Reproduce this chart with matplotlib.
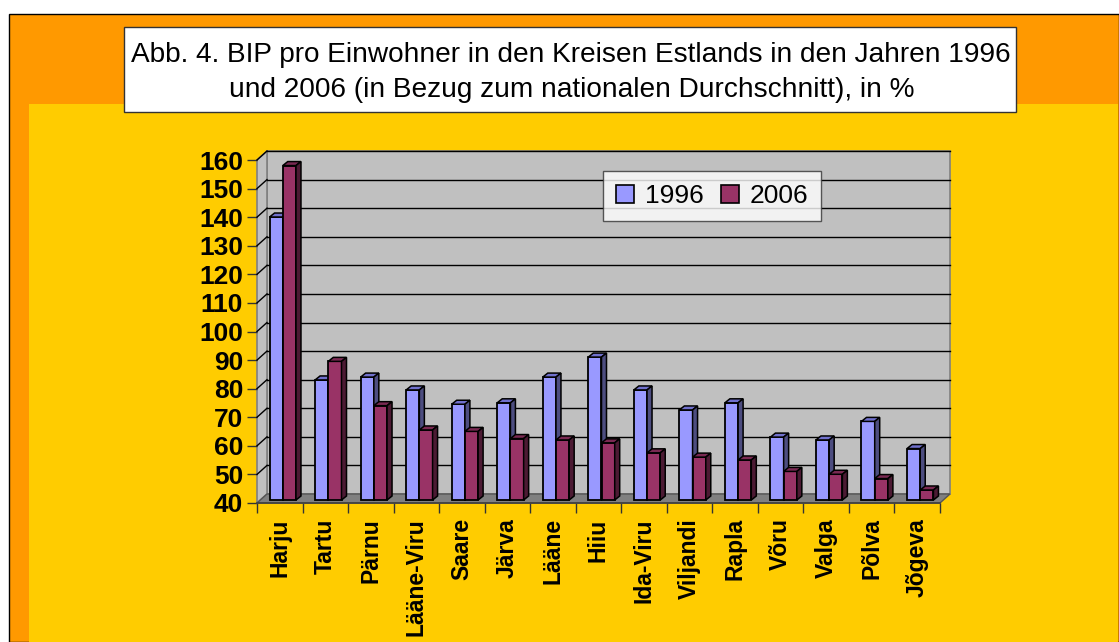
import matplotlib
matplotlib.use("Agg")
import matplotlib.pyplot as plt
from matplotlib.patches import Rectangle, Polygon, Patch
import numpy as np

# ---- data ----
regions = ["Harju", "Tartu", "Pärnu", "Lääne-Viru", "Saare", "Järva", "Lääne",
           "Hiiu", "Ida-Viru", "Viljandi", "Rapla", "Võru", "Valga", "Põlva", "Jõgeva"]
values_1996 = [139, 82, 83, 78.5, 73.5, 74, 83, 90, 78.5, 71.5, 74, 62, 61, 67.5, 58]
values_2006 = [157, 88.5, 73, 64.5, 64, 61.5, 61, 60, 56.5, 55, 54, 50, 49, 47.5, 43.5]
series_labels = ["1996", "2006"]
y_ticks = list(range(40, 161, 10))
title_lines = ["Abb. 4. BIP pro Einwohner in den Kreisen Estlands in den Jahren 1996",
               "und 2006 (in Bezug zum nationalen Durchschnitt), in %"]

W, H = 1119, 642
fig = plt.figure(figsize=(W / 100, H / 100), dpi=100)
fig.patch.set_facecolor("white")

def fx(x):
    return x / W

def fy(y):
    return 1 - y / H

def frect(x0, y0, x1, y1, **kw):
    r = Rectangle((fx(x0), fy(y1)), (x1 - x0) / W, (y1 - y0) / H,
                  transform=fig.transFigure, **kw)
    fig.add_artist(r)
    return r

# background frames
frect(9, 14, 1119, 642, facecolor="#FF9900", edgecolor="black", linewidth=1.0, zorder=-20)
frect(29, 104, 1118, 642, facecolor="#FFCC00", edgecolor="none", zorder=-19)
frect(124, 27, 1016, 112, facecolor="white", edgecolor="#333333", linewidth=1.0, zorder=-18)

tfont = dict(family=["Liberation Sans", "DejaVu Sans"], fontsize=20.2)
fig.text(fx(571), fy(62), title_lines[0], ha="center", va="baseline", **tfont)
fig.text(fx(572), fy(97), title_lines[1], ha="center", va="baseline", **tfont)

# ---- main axes (front plane of the 3D box) ----
x_left, x_right = 257, 940
y_top, y_bot = 160, 503
ax = fig.add_axes([fx(x_left), fy(y_bot), (x_right - x_left) / W, (y_bot - y_top) / H])
ax.set_xlim(0, len(regions))
ax.set_ylim(y_ticks[0], y_ticks[-1])
ax.patch.set_visible(False)
for s in ax.spines.values():
    s.set_visible(False)

ux = len(regions) / (x_right - x_left)             # data units per pixel (x)
uy = (y_ticks[-1] - y_ticks[0]) / (y_bot - y_top)  # data units per pixel (y)
DX, DY = 10 * ux, 9 * uy       # depth of box
BX, BY = 3 * ux, 3 * uy        # bar front offset
TX, TY = 5 * ux, 4 * uy        # bar depth
ymin, ymax = y_ticks[0], y_ticks[-1]
n = len(regions)

# back wall
ax.add_patch(Polygon([(DX, ymin + DY), (n + DX, ymin + DY), (n + DX, ymax + DY), (DX, ymax + DY)],
                     closed=True, facecolor="#C0C0C0", edgecolor="#808080", linewidth=1.2,
                     zorder=1, clip_on=False))
# side wall
ax.add_patch(Polygon([(0, ymin), (DX, ymin + DY), (DX, ymax + DY), (0, ymax)],
                     closed=True, facecolor="#C0C0C0", edgecolor="#808080", linewidth=1.2,
                     zorder=1, clip_on=False))
# gridlines
for v in y_ticks[1:]:
    ax.plot([DX, n + DX], [v + DY, v + DY], color="black", linewidth=1.0, zorder=2, clip_on=False)
    ax.plot([0, DX], [v, v + DY], color="black", linewidth=1.0, zorder=2, clip_on=False)
# floor
ax.add_patch(Polygon([(0, ymin), (n, ymin), (n + DX, ymin + DY), (DX, ymin + DY)],
                     closed=True, facecolor="#808080", edgecolor="#555555", linewidth=1.0,
                     zorder=3, clip_on=False))
ax.plot([0, n], [ymin, ymin], color="#404040", linewidth=1.2, zorder=3, clip_on=False)

# bars
bw = 0.29
colors = {"1996": ("#9999FF", "#7070CC", "#4D4D80"),
          "2006": ("#993366", "#7A2952", "#4C1A33")}
z = 5
for i in range(n):
    for j, (lab, vals) in enumerate(zip(series_labels, [values_1996, values_2006])):
        front, top, side = colors[lab]
        x0 = i + 0.5 - bw + j * bw + BX
        x1 = x0 + bw
        y0 = ymin + BY
        v = vals[i] + BY
        ax.bar(x0, vals[i] - ymin, bottom=y0, width=bw, align="edge",
               color=front, edgecolor="black", linewidth=1.3, zorder=z, clip_on=False)
        ax.add_patch(Polygon([(x0, v), (x1, v), (x1 + TX, v + TY), (x0 + TX, v + TY)],
                             closed=True, facecolor=top, edgecolor="black", linewidth=1.1,
                             zorder=z, clip_on=False))
        ax.add_patch(Polygon([(x1, y0), (x1 + TX, y0 + TY), (x1 + TX, v + TY), (x1, v)],
                             closed=True, facecolor=side, edgecolor="black", linewidth=1.1,
                             zorder=z, clip_on=False))
        z += 1

# ticks
ax.set_yticks(y_ticks)
ax.set_yticklabels([str(t) for t in y_ticks], fontsize=19, fontweight="bold",
                   family=["Liberation Sans", "DejaVu Sans"])
ax.tick_params(axis="y", length=7, width=1.0, color="#333333", pad=3)
ax.set_xticks(np.arange(n) + 0.5)
ax.set_xticklabels(regions, rotation=90, ha="center", va="top", fontsize=16.5,
                   fontweight="bold", family=["Liberation Sans", "DejaVu Sans"])
ax.tick_params(axis="x", which="major", length=0, pad=11)
ax.set_xticks(np.arange(n + 1), minor=True)
ax.tick_params(axis="x", which="minor", length=7, width=1.0, color="#333333")

# legend
handles = [Patch(facecolor=colors[l][0], edgecolor="black", linewidth=1.2) for l in series_labels]
leg = fig.legend(handles, series_labels, loc="center", bbox_to_anchor=(fx(712), fy(196)),
                 ncol=2, frameon=True, fancybox=False, edgecolor="#333333",
                 handlelength=0.7, handleheight=0.7, handletextpad=0.4, columnspacing=0.65,
                 borderpad=0.5, borderaxespad=0,
                 prop={"family": ["Liberation Sans", "DejaVu Sans"], "size": 19})
leg.get_frame().set_linewidth(1.0)
leg.set_zorder(20)

fig.savefig("out.png", dpi=100, facecolor=fig.get_facecolor())
